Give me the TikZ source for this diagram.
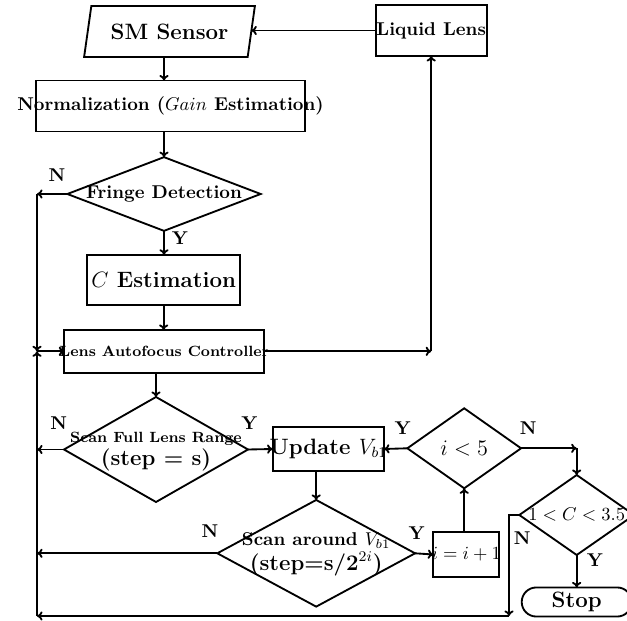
\documentclass[tikz,border=0pt]{standalone}
\usepackage{tikz}
\usetikzlibrary{arrows,positioning,calc,shapes.geometric,shapes.misc}
\usetikzlibrary{arrows.meta}
\newcommand{\wide}[1]{\makebox[0pt]{#1}}
\newcommand{\vb}{V_{b1}}

\begin{document}
\begin{tikzpicture}[->,>={To[length=3pt,width=5pt]},line width=1pt,x=0.54pt,y=-0.54pt,
		box/.style={draw, rectangle, inner sep=0pt, outer sep=0pt, font=\bfseries},
		test/.style={draw, diamond, inner sep=0pt, outer sep=0pt, font=\bfseries},
		yn/.style={font=\bfseries, inner sep=0pt}]
	\useasboundingbox (0,0) rectangle (627,621);
	\node[draw, trapezium, trapezium left angle=71, trapezium right angle=109, trapezium stretches=true,
		inner sep=0pt, outer sep=0pt, minimum width=92.3pt, minimum height=27.5pt, font=\bfseries] (b1) at (169.5, 31.5) {\large SM Sensor};
	\node[box, minimum width=145.3pt, minimum height=27.5pt] (b2) at (170.5, 106) {\wide{Normalization ($Gain$ Estimation)}};
	\node[test, minimum width=104.4pt, minimum height=39.8pt] (b3) at (164, 194) {\wide{Fringe Detection}};
	\node[box, minimum width=82.4pt, minimum height=27.2pt] (b4) at (163.7, 280) {\large $C$ Estimation};
	\node[box, minimum width=108pt, minimum height=23pt] (b5) at (164.3, 351.3) {\wide{\footnotesize Lens Autofocus Controller}};
	\node[box, minimum width=60pt, minimum height=27.5pt] (b6) at (431.2, 30.5) {\wide{Liquid Lens}};
	\node[test, minimum width=99.4pt, minimum height=56.7pt] (b7) at (156, 449.5) {\wide{\begin{tabular}{@{}c@{}} {\footnotesize Scan Full Lens Range} \\ {\large (step = s)} \end{tabular}}};
	\node[box, minimum width=60.1pt, minimum height=23.4pt] (b8) at (328.3, 449) {\wide{\large Update $\vb$}};
	\node[test, minimum width=106.8pt, minimum height=57.6pt] (b9) at (316.2, 553.3) {\wide{\begin{tabular}{@{}c@{}} Scan around $\vb$ \\ {\large (step=s/$\mathbf{2}^{2i}$)} \end{tabular}}};
	\node[box, minimum width=35.6pt, minimum height=23.9pt] (b10) at (466.3, 554.5) {\wide{$i=i+1$}};
	\node[test, minimum width=61.4pt, minimum height=43.2pt] (b11) at (464.2, 448.3) {\wide{\large $i<5$}};
	\node[test, minimum width=62pt, minimum height=43.2pt] (b12) at (576.7, 515) {\wide{$1<C<3.5$}};
	\node[draw, rounded rectangle, inner sep=0pt, outer sep=0pt, minimum width=59.4pt, minimum height=15.7pt, font=\bfseries] (b13) at (576.7, 602) {\large Stop};
	
	\node[yn] (l1) at (57, 175) {N};
	\node[yn] (l2) at (180, 238.3) {Y};
	\node[yn] (l3) at (58.7, 423.3) {N};
	\node[yn] (l4) at (249.3, 423.3) {Y};
	\node[yn] (l5) at (210, 530.7) {N};
	\node[yn] (l6) at (416.7, 533.3) {Y};
	\node[yn] (l7) at (402.7, 428.3) {Y};
	\node[yn] (l8) at (528.3, 427.7) {N};
	\node[yn] (l9) at (522.3, 538.3) {N};
	\node[yn] (l10) at (595, 560) {Y};
	
	\coordinate (bk) at (37, 351.3);
	\coordinate (bt) at (509, 616);
	\coordinate (bb) at (bk |- bt);
	\coordinate (up) at (b5.east -| b6.south);
	\coordinate (dn) at (b11.east -| b12.north);
	
	\path (b1.south -| b3.north) edge (b3.north |- b2.north);
	\path (b2.south -| b3.north) edge (b3.north);
	\path (b3.south) edge (b3.south |- b4.north);
	\path (b4.south) edge (b4.south |- b5.north);
	\path (b5.south -| b7.north) edge (b7.north);
	\path (b6.west) edge (b6.west -| b1.east);
	\draw (b5.east) -- (up);
	\draw (up) -- (b6.south);
	\draw (b3.west) -- (b3.west -| bk);
	\draw (b3.west -| bk) -- (bk);
	\draw (bb) -- (bk);
	\draw (bk) -- (b5.west);
	\draw (b7.west) -- (b7.west -| bk);
	\path (b7.east) edge (b8.west);
	\path (b8.south -| b9.north) edge (b9.north);
	\draw (b9.west) -- (b9.west -| bk);
	\path (b9.east) edge (b10.west);
	\path (b10.north -| b11.south) edge (b11.south);
	\path (b11.west) edge (b8.east);
	\draw (b11.east) -- (dn);
	\draw (dn) -- (b12.north);
	\draw (b12.west) -| (bt);
	\draw (bt) -- (bb);
	\path (b12.south) edge (b13.north);
\end{tikzpicture}
\end{document}
